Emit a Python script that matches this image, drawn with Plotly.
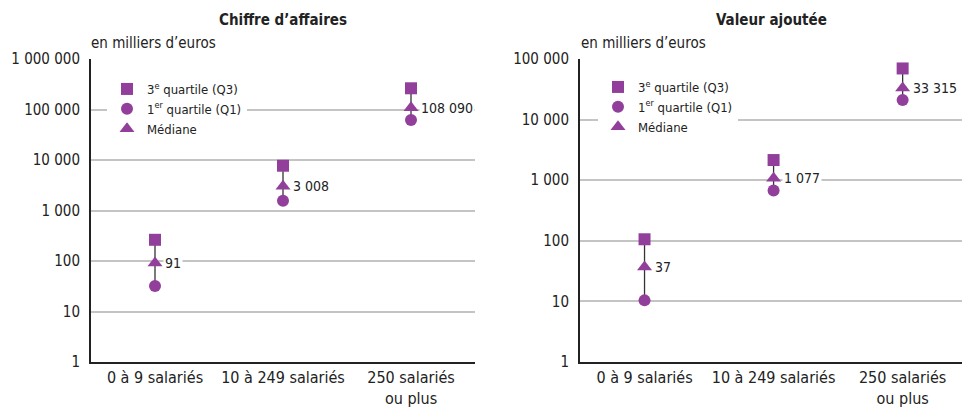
import math
import plotly.graph_objects as go

categories = ["0 à 9 salariés", "10 à 249 salariés", "250 salariés<br>ou plus"]

ca_q3 = [263, 7700, 263000]
ca_q1 = [32, 1560, 62000]
ca_med = [91, 3008, 108090]
ca_med_labels = ["91", "3 008", "108 090"]

va_q3 = [106, 2150, 69800]
va_q1 = [10.4, 675, 21000]
va_med = [37, 1077, 33315]
va_med_labels = ["37", "1 077", "33 315"]

ca_tickvals = [1, 10, 100, 1000, 10000, 100000, 1000000]
ca_ticktext = ["1", "10", "100", "1 000", "10 000", "100 000", "1 000 000"]
va_tickvals = [1, 10, 100, 1000, 10000, 100000]
va_ticktext = ["1", "10", "100", "1 000", "10 000", "100 000"]

unit = "en milliers d’euros"
names = ["3<sup>e</sup> quartile (Q3)", "1<sup>er</sup> quartile (Q1)", "Médiane"]

PURPLE = "#923f9b"
FONT = "DejaVu Sans Condensed, Liberation Sans Narrow, Arial Narrow, sans-serif"
W, H = 962, 408

fig = go.Figure()

panels = [
    dict(q3=ca_q3, q1=ca_q1, med=ca_med, lab=ca_med_labels,
         xa="x", ya="y", legend="legend"),
    dict(q3=va_q3, q1=va_q1, med=va_med, lab=va_med_labels,
         xa="x2", ya="y2", legend="legend2"),
]

for p in panels:
    lx, ly = [], []
    for c, a, b in zip(categories, p["q1"], p["q3"]):
        lx += [c, c, None]
        ly += [a, b, None]
    fig.add_trace(go.Scatter(x=lx, y=ly, mode="lines", line=dict(color="#333333", width=1.3),
                             showlegend=False, hoverinfo="skip", xaxis=p["xa"], yaxis=p["ya"]))
    fig.add_trace(go.Scatter(x=categories, y=p["q3"], mode="markers", name=names[0],
                             marker=dict(symbol="square", size=12, color=PURPLE),
                             xaxis=p["xa"], yaxis=p["ya"], legend=p["legend"]))
    fig.add_trace(go.Scatter(x=categories, y=p["q1"], mode="markers", name=names[1],
                             marker=dict(symbol="circle", size=12, color=PURPLE),
                             xaxis=p["xa"], yaxis=p["ya"], legend=p["legend"]))
    fig.add_trace(go.Scatter(x=categories, y=p["med"], mode="markers", name=names[2],
                             marker=dict(symbol="triangle-up", size=13, color=PURPLE),
                             xaxis=p["xa"], yaxis=p["ya"], legend=p["legend"]))
    for c, v, t in zip(categories, p["med"], p["lab"]):
        fig.add_annotation(x=c, y=math.log10(v), xref=p["xa"], yref=p["ya"], text=t,
                           showarrow=False, xanchor="left", yanchor="middle", xshift=8,
                           bgcolor="white", borderpad=1,
                           font=dict(family=FONT, size=14, color="#222222"))

def dom_x(a, b):
    return [a / W, min(b / W, 1.0)]

ydom = [(H - 362) / H, (H - 59) / H]

axis_common = dict(showline=True, linecolor="#222222", linewidth=2, ticks="", automargin=False)
yfont = dict(family=FONT, size=15, color="#222222")
xfont = dict(family=FONT, size=16, color="#222222")

fig.update_layout(
    template="none",
    width=W, height=H,
    margin=dict(l=0, r=0, t=0, b=0, pad=0, autoexpand=False),
    paper_bgcolor="white", plot_bgcolor="white",
    font=dict(family=FONT, size=14, color="#222222"),
    xaxis=dict(domain=dom_x(91, 475), type="category", range=[-0.5, 2.5], tickfont=xfont,
               showgrid=False, zeroline=False, anchor="y", **axis_common),
    yaxis=dict(domain=ydom, type="log", range=[0, 6], tickvals=ca_tickvals, tickfont=yfont,
               ticktext=ca_ticktext, showgrid=True, gridcolor="#c4c4c4", gridwidth=1.5,
               zeroline=False, anchor="x", ticklabelstandoff=6, **axis_common),
    xaxis2=dict(domain=dom_x(580, 962), type="category", range=[-0.5, 2.46], tickfont=xfont,
                showgrid=False, zeroline=False, anchor="y2", **axis_common),
    yaxis2=dict(domain=ydom, type="log", range=[0, 5], tickvals=va_tickvals, tickfont=yfont,
                ticktext=va_ticktext, showgrid=True, gridcolor="#c4c4c4", gridwidth=1.5,
                zeroline=False, anchor="x2", ticklabelstandoff=6, **axis_common),
    legend=dict(x=107 / W, y=(H - 74) / H, xanchor="left", yanchor="top",
                bgcolor="white", font=dict(family=FONT, size=13), tracegroupgap=0,
                itemwidth=30, borderwidth=0),
    legend2=dict(x=598 / W, y=(H - 72) / H, xanchor="left", yanchor="top",
                 bgcolor="white", font=dict(family=FONT, size=13), tracegroupgap=0,
                 itemwidth=30, borderwidth=0),
    showlegend=True,
)

fig.add_annotation(x=283 / W, y=(H - 20) / H, xref="paper", yref="paper", text="<b>Chiffre d’affaires</b>",
                   showarrow=False, xanchor="center", yanchor="middle",
                   font=dict(family=FONT, size=15, color="#222222"))
fig.add_annotation(x=771 / W, y=(H - 20) / H, xref="paper", yref="paper", text="<b>Valeur ajoutée</b>",
                   showarrow=False, xanchor="center", yanchor="middle",
                   font=dict(family=FONT, size=15, color="#222222"))
fig.add_annotation(x=89 / W, y=(H - 43) / H, xref="paper", yref="paper", text=unit,
                   showarrow=False, xanchor="left", yanchor="middle",
                   font=dict(family=FONT, size=15, color="#222222"))
fig.add_annotation(x=579 / W, y=(H - 43) / H, xref="paper", yref="paper", text=unit,
                   showarrow=False, xanchor="left", yanchor="middle",
                   font=dict(family=FONT, size=15, color="#222222"))

fig.write_html("out.html", config={"displayModeBar": False},
               post_script="document.body.style.margin='0';")
